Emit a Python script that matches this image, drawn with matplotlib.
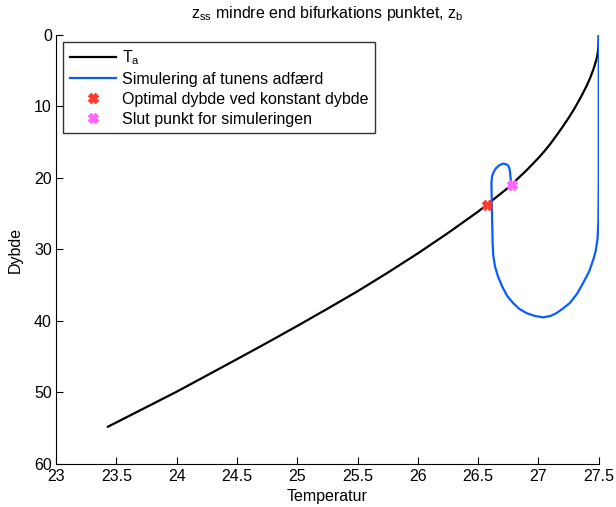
import matplotlib
matplotlib.use("Agg")
import matplotlib.pyplot as plt

plt.rcParams['font.family'] = ['Liberation Sans', 'DejaVu Sans']
plt.rcParams['mathtext.fontset'] = 'custom'
plt.rcParams['mathtext.rm'] = 'Liberation Sans'
plt.rcParams['mathtext.it'] = 'Liberation Sans'
plt.rcParams['mathtext.default'] = 'regular'

# T_a curve (temperature, depth)
ta_temp = [23.43, 23.5, 23.75, 24.0, 24.25, 24.5, 24.75, 25.0, 25.25, 25.5,
           25.75, 26.0, 26.25, 26.5, 26.75, 26.9, 27.0, 27.05, 27.1, 27.15,
           27.2, 27.25, 27.3, 27.35, 27.4, 27.43, 27.46, 27.48, 27.49, 27.497, 27.5]
ta_depth = [54.8, 54.2, 52.05, 49.9, 47.63, 45.35, 43.05, 40.7, 38.3, 35.85,
            33.25, 30.55, 27.7, 24.7, 21.35, 18.95, 17.2, 16.25, 15.2, 14.05,
            12.85, 11.6, 10.25, 8.75, 7.1, 5.95, 4.6, 3.45, 2.7, 1.8, 0.0]

# simulated trajectory
sim_temp = [27.5, 27.5, 27.5, 27.497, 27.49, 27.475, 27.455, 27.42, 27.37, 27.32,
            27.26, 27.2, 27.15, 27.1, 27.04, 26.97, 26.90, 26.84, 26.79, 26.74,
            26.70, 26.665, 26.64, 26.625, 26.62, 26.615, 26.61, 26.615, 26.625,
            26.645, 26.67, 26.69, 26.71, 26.735, 26.75, 26.76, 26.765, 26.77, 26.775]
sim_depth = [0.0, 10.0, 20.0, 26.0, 28.5, 30.2, 31.4, 33.1, 34.7, 36.2,
             37.5, 38.3, 38.9, 39.3, 39.5, 39.3, 38.9, 38.3, 37.5, 36.5,
             35.2, 33.8, 32.4, 30.8, 29.1, 25.4, 20.7, 19.8, 19.3,
             18.7, 18.3, 18.1, 18.0, 18.1, 18.3, 18.7, 19.3, 20.2, 21.0]

opt_point = (26.575, 23.85)
end_point = (26.78, 21.0)

fig = plt.figure(figsize=(6.16, 5.07), dpi=100)
ax = fig.add_axes([0.091, 0.085, 0.881, 0.846])

ax.plot(ta_temp, ta_depth, color='black', lw=1.6, label='$T_a$')
ax.plot(sim_temp, sim_depth, color='#0a5cff', lw=1.6, label='Simulering af tunens adfærd')
ax.plot(*opt_point, ls='none', marker='X', ms=6.5, color='#ff3b2f',
        label='Optimal dybde ved konstant dybde')
ax.plot(*end_point, ls='none', marker='X', ms=6.5, color='#ff66ff',
        label='Slut punkt for simuleringen')

ax.set_xlim(23, 27.5)
ax.set_ylim(60, 0)
ax.set_xticks([23, 23.5, 24, 24.5, 25, 25.5, 26, 26.5, 27, 27.5])
ax.set_xticklabels(['23', '23.5', '24', '24.5', '25', '25.5', '26', '26.5', '27', '27.5'])
ax.set_yticks([0, 10, 20, 30, 40, 50, 60])
ax.tick_params(direction='in', length=5, labelsize=11.5)
ax.tick_params(axis='x', pad=4)
ax.tick_params(axis='y', pad=3)
ax.spines['top'].set_visible(False)
ax.spines['right'].set_visible(False)

ax.set_xlabel('Temperatur', fontsize=11.5, labelpad=3)
ax.set_ylabel('Dybde', fontsize=11.5, labelpad=8)
ax.set_title('$z_{ss}$ mindre end bifurkations punktet, $z_b$', fontsize=11.5, pad=12)

leg = ax.legend(loc='upper left', fontsize=11.5, frameon=True, fancybox=False,
                edgecolor='black', borderaxespad=0.45, handlelength=2.9,
                labelspacing=0.3, borderpad=0.4, handletextpad=0.4)
leg.get_frame().set_linewidth(1.0)

fig.savefig('out.png', dpi=100)
